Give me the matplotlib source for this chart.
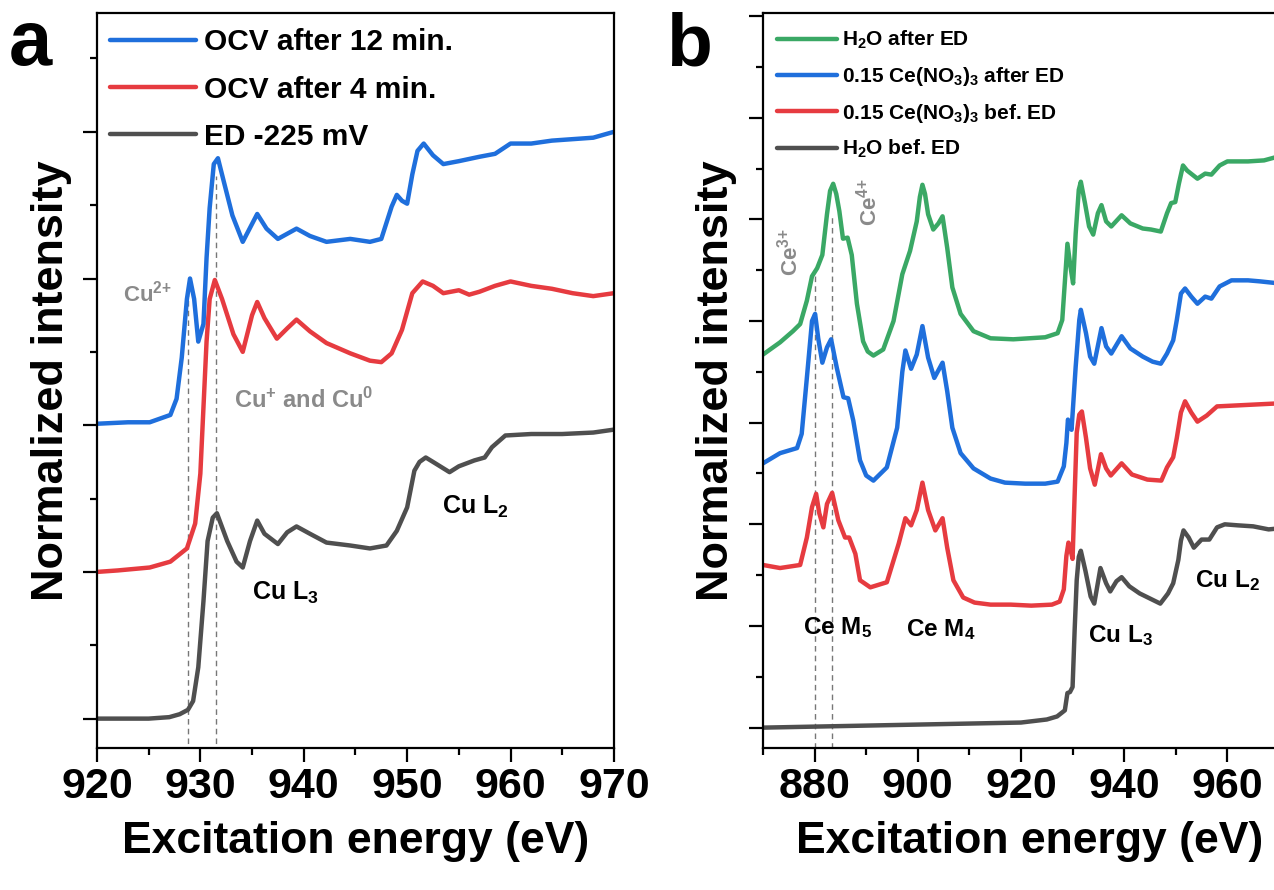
import numpy as np
import matplotlib.pyplot as plt
from matplotlib.ticker import MultipleLocator

plt.rcParams['font.family'] = ['Liberation Sans', 'DejaVu Sans']
plt.rcParams['font.weight'] = 'bold'
plt.rcParams['mathtext.fontset'] = 'custom'
plt.rcParams['mathtext.rm'] = 'Liberation Sans:bold'
plt.rcParams['mathtext.it'] = 'Liberation Sans:bold'
plt.rcParams['mathtext.bf'] = 'Liberation Sans:bold'

########### colours ###########
c_blue = '#1f6fdc'
c_red = '#e63b40'
c_gray = '#4f4f4f'
c_green = '#3aa865'
c_note = '#8a8a8a'

########### panel a data (stacked, offset = 1 major tick) ###########
ed_x = [920, 922, 925, 927, 928, 928.8, 929.3, 929.8, 930.3, 930.7, 931.2, 931.6, 932.6, 933.5,
        934.1, 934.8, 935.5, 936.2, 937.5, 938.4, 939.3, 940.6, 942.2, 944.5, 946.4, 948, 949,
        950, 950.7, 951.2, 951.8, 952.5, 954.1, 955, 956.5, 957.5, 958.2, 959.5, 962, 965, 968, 970]
ed_y = [0, 0, 0, 0.01, 0.03, 0.06, 0.12, 0.35, 0.80, 1.21, 1.37, 1.40, 1.21, 1.07,
        1.03, 1.21, 1.35, 1.26, 1.19, 1.27, 1.31, 1.26, 1.20, 1.18, 1.16, 1.18, 1.28,
        1.44, 1.69, 1.75, 1.78, 1.75, 1.68, 1.72, 1.76, 1.78, 1.85, 1.93, 1.94, 1.94, 1.95, 1.97]

ocv4_x = [920, 922, 925.1, 927.1, 928.7, 929.5, 930.0, 930.3, 930.6, 930.9, 931.4, 932.1, 933.2,
          934.1, 935.0, 935.5, 936.2, 937.4, 938.4, 939.3, 940.6, 942.2, 944.5, 946.4, 947.5,
          948.5, 949.5, 950.5, 951.5, 952.5, 953.5, 955, 956, 957, 958.5, 960, 962, 964, 966,
          968, 970]
ocv4_y = [1.00, 1.01, 1.03, 1.07, 1.16, 1.33, 1.67, 2.12, 2.57, 2.86, 2.99, 2.86, 2.62,
          2.50, 2.75, 2.84, 2.73, 2.59, 2.66, 2.72, 2.64, 2.56, 2.49, 2.44, 2.43,
          2.49, 2.65, 2.90, 2.98, 2.95, 2.90, 2.92, 2.89, 2.91, 2.95, 2.98, 2.95, 2.93, 2.90,
          2.88, 2.90]

ocv12_x = [920, 923, 925.1, 927.1, 927.7, 928.2, 928.7, 929.0, 929.4, 929.8, 930.3, 930.6, 930.9,
           931.3, 931.7, 932.2, 933.1, 934.1, 935.5, 936.4, 937.5, 939.3, 940.6, 942.2, 944.5,
           946.4, 947.5, 948.5, 949.0, 949.5, 950, 950.5, 951.0, 951.6, 952.5, 953.5, 955, 957,
           958.5, 960, 962, 964, 966, 968, 970]
ocv12_y = [2.01, 2.02, 2.02, 2.07, 2.18, 2.46, 2.86, 3.00, 2.86, 2.57, 2.69, 3.14, 3.48,
           3.78, 3.82, 3.68, 3.43, 3.25, 3.44, 3.34, 3.27, 3.34, 3.29, 3.25, 3.27,
           3.25, 3.27, 3.49, 3.57, 3.53, 3.51, 3.71, 3.87, 3.92, 3.84, 3.78, 3.80, 3.83,
           3.85, 3.92, 3.92, 3.94, 3.95, 3.96, 4.00]

########### panel b data ###########
h2o_bef_x = [870, 880, 900, 920, 925, 927, 928.5, 929, 929.5, 930, 930.4, 930.8, 931.2, 931.6,
             932.5, 933.5, 934.2, 935.4, 936.5, 937.3, 938.5, 939.5, 941, 943, 945, 947, 948.5,
             949.5, 950.5, 951, 951.5, 952.5, 953.5, 955, 956.5, 958, 959.5, 962, 965, 968, 970]
h2o_bef_y = [0, 0.01, 0.03, 0.05, 0.08, 0.11, 0.17, 0.34, 0.35, 0.40, 0.96, 1.45, 1.68, 1.74,
             1.54, 1.29, 1.22, 1.57, 1.42, 1.34, 1.44, 1.48, 1.39, 1.32, 1.27, 1.22, 1.32,
             1.42, 1.65, 1.84, 1.94, 1.87, 1.77, 1.85, 1.85, 1.97, 2.00, 1.99, 1.98, 1.95, 1.96]

ce_bef_x = [870, 873.3, 877.2, 878.5, 879.5, 880.3, 880.9, 881.7, 882.4, 883.4, 884.6, 885.9,
            886.7, 887.9, 888.8, 890.8, 894.0, 896.3, 897.6, 898.7, 899.8, 900.9, 902.0, 903.4,
            904.8, 905.7, 906.9, 908.8, 911, 914.1, 918, 922, 926,
            927.5, 928.3, 928.8, 929.2, 929.6, 930, 930.4, 930.8, 931.3, 931.8, 932.6, 933.4,
            934.3, 935.5, 936.5, 937.4, 939.5, 941.5, 944.5, 947.2, 948.3, 949.5, 950.2, 951,
            951.8, 953, 954.2, 956, 958, 962, 966, 970]
ce_bef_y = [1.60, 1.57, 1.60, 1.87, 2.17, 2.30, 2.11, 1.97, 2.20, 2.31, 2.04, 1.87,
            1.87, 1.71, 1.45, 1.38, 1.43, 1.81, 2.06, 1.99, 2.14, 2.41, 2.14, 1.94,
            2.06, 1.77, 1.45, 1.28, 1.23, 1.21, 1.21, 1.20, 1.21,
            1.24, 1.36, 1.69, 1.82, 1.75, 1.66, 2.29, 2.90, 3.08, 3.11, 2.85, 2.55,
            2.39, 2.69, 2.55, 2.48, 2.60, 2.49, 2.44, 2.43, 2.56, 2.66, 2.85, 3.10,
            3.21, 3.10, 3.01, 3.07, 3.16, 3.17, 3.18, 3.19]

ce_aft_x = [870, 873.3, 876.6, 877.5, 878.5, 879.5, 880.1, 880.7, 881.5, 882.4, 883.2, 884.3,
            885.6, 886.5, 887.5, 888.8, 890.0, 891.4, 894.0, 896.0, 897.0, 897.6, 898.7, 899.8,
            900.9, 902.0, 903.2, 904.8, 905.7, 906.7, 908.3, 910.8, 914.1, 916.9, 920.8, 924.7,
            927.1, 928.3, 928.8, 929.1, 929.8, 930.6, 931.3,
            931.6, 932.6, 933.4, 934.2, 935.6, 936.5, 937.5, 939.5, 941.2, 943.6, 945.5, 947.1,
            948.3, 949.5, 950.2, 951, 951.8, 953, 954.2, 955.7, 956.9, 958.5, 960.8, 964, 966.3,
            970]
ce_aft_y = [2.60, 2.70, 2.75, 2.89, 3.44, 4.00, 4.07, 3.83, 3.59, 3.74, 3.82, 3.54,
            3.25, 3.24, 3.02, 2.63, 2.48, 2.43, 2.56, 2.95, 3.50, 3.71, 3.53, 3.67,
            3.95, 3.64, 3.44, 3.59, 3.31, 2.95, 2.70, 2.55, 2.45, 2.41, 2.40, 2.40,
            2.42, 2.57, 2.80, 3.03, 2.93, 3.55, 4.01,
            4.11, 3.88, 3.65, 3.58, 3.93, 3.75, 3.68, 3.85, 3.73, 3.65, 3.60, 3.58,
            3.68, 3.81, 4.01, 4.27, 4.32, 4.24, 4.17, 4.24, 4.22, 4.34, 4.40, 4.40, 4.39,
            4.37]

h2o_aft_x = [870, 873.3, 875.8, 877.2, 878.5, 879.5, 880.5, 881.5, 882.4, 883.0, 883.6, 884.2,
             884.8, 885.5, 886.4, 887.2, 888.2, 889.4, 890.3, 891.4, 893.3, 895.3, 897.0, 898.5,
             899.8, 900.4, 900.9, 901.4, 902.0, 903.0, 904.0, 904.8, 905.7, 906.7, 908.3, 910.8,
             914.1, 918.5, 921.6, 924.7, 927.1, 928, 928.7, 929,
             929.6, 930.1, 930.6, 931.2, 931.6, 932.4, 933.2, 934, 934.9, 935.6, 936.5, 937.5,
             939.5, 941.2, 943.6, 945.2, 947.1, 948.3, 949.1, 949.9, 950.6, 951.4, 952.2, 954.2,
             955.7, 956.9, 958.5, 960, 964, 967.1, 970]
h2o_aft_y = [3.67, 3.79, 3.90, 3.97, 4.20, 4.44, 4.52, 4.65, 5.05, 5.28, 5.35, 5.25,
             5.08, 4.81, 4.82, 4.65, 4.17, 3.80, 3.70, 3.66, 3.72, 4.00, 4.46, 4.69,
             4.98, 5.22, 5.34, 5.25, 5.05, 4.90, 4.96, 5.03, 4.72, 4.33, 4.07, 3.90,
             3.83, 3.82, 3.83, 3.84, 3.88, 4.01, 4.53, 4.76,
             4.53, 4.37, 4.86, 5.29, 5.37, 5.16, 4.93, 4.85, 5.06, 5.14, 4.98, 4.93,
             5.04, 4.96, 4.91, 4.90, 4.88, 5.06, 5.16, 5.17, 5.35, 5.53, 5.48, 5.40,
             5.45, 5.44, 5.53, 5.57, 5.57, 5.58, 5.62]

########### figure ###########
fig = plt.figure(figsize=(12.74, 8.90), dpi=100)
axa = fig.add_axes([0.0761, 0.1596, 0.4058, 0.8258])
axb = fig.add_axes([0.5989, 0.1596, 0.4050, 0.8258])

lw = 3.2
kw = dict(lw=lw, solid_joinstyle='round', solid_capstyle='round')
dash = dict(ls=(0, (4, 3)), lw=1.0, color='#777777', zorder=1)

# panel a
axa.plot([928.8, 928.8], [-0.3, 2.9], **dash)
axa.plot([931.5, 931.5], [-0.3, 3.7], **dash)
la3, = axa.plot(ed_x, ed_y, color=c_gray, label='ED -225 mV', **kw)
la2, = axa.plot(ocv4_x, ocv4_y, color=c_red, label='OCV after 4 min.', **kw)
la1, = axa.plot(ocv12_x, ocv12_y, color=c_blue, label='OCV after 12 min.', **kw)

axa.set_xlim(920, 970)
axa.set_ylim(-0.2, 4.81)
axa.xaxis.set_major_locator(MultipleLocator(10))
axa.xaxis.set_minor_locator(MultipleLocator(5))
axa.yaxis.set_major_locator(MultipleLocator(1))
axa.yaxis.set_minor_locator(MultipleLocator(0.5))

axa.legend(handles=[la1, la2, la3], loc='upper left', bbox_to_anchor=(0.025, 0.979),
           frameon=False, fontsize=21.5, handlelength=2.9, handletextpad=0.25,
           labelspacing=0.64, borderpad=0, borderaxespad=0)

axa.text(922.5, 2.9, 'Cu$^{2{+}}$', color=c_note, fontsize=16, va='center', ha='left')
axa.text(933.3, 2.17, 'Cu$^{{+}}$ and Cu$^{0}$', color=c_note, fontsize=17, va='center', ha='left')
axa.text(935.0, 0.86, 'Cu L$_3$', color='black', fontsize=18, va='center', ha='left')
axa.text(953.4, 1.44, 'Cu L$_2$', color='black', fontsize=18, va='center', ha='left')

# panel b
axb.plot([880.1, 880.1], [-0.3, 4.49], **dash)
axb.plot([883.3, 883.3], [-0.3, 5.05], **dash)
lb4, = axb.plot(h2o_bef_x, h2o_bef_y, color=c_gray, label='H$_2$O bef. ED', **kw)
lb3, = axb.plot(ce_bef_x, ce_bef_y, color=c_red, label='0.15 Ce(NO$_3$)$_3$ bef. ED', **kw)
lb2, = axb.plot(ce_aft_x, ce_aft_y, color=c_blue, label='0.15 Ce(NO$_3$)$_3$ after ED', **kw)
lb1, = axb.plot(h2o_aft_x, h2o_aft_y, color=c_green, label='H$_2$O after ED', **kw)

axb.set_xlim(870, 970)
axb.set_ylim(-0.2, 7.03)
axb.xaxis.set_major_locator(MultipleLocator(20))
axb.xaxis.set_minor_locator(MultipleLocator(10))
axb.yaxis.set_major_locator(MultipleLocator(1))
axb.yaxis.set_minor_locator(MultipleLocator(0.5))

axb.legend(handles=[lb1, lb2, lb3, lb4], loc='upper left', bbox_to_anchor=(0.027, 0.978),
           frameon=False, fontsize=15, handlelength=2.9, handletextpad=0.2,
           labelspacing=0.65, borderpad=0, borderaxespad=0)

axb.text(875.2, 4.68, 'Ce$^{3{+}}$', color=c_note, fontsize=16, rotation=90, va='center', ha='center')
axb.text(890.4, 5.17, 'Ce$^{4{+}}$', color=c_note, fontsize=16, rotation=90, va='center', ha='center')
axb.text(877.7, 0.98, 'Ce M$_5$', color='black', fontsize=17.5, va='center', ha='left')
axb.text(897.7, 0.96, 'Ce M$_4$', color='black', fontsize=17.5, va='center', ha='left')
axb.text(933.0, 0.91, 'Cu L$_3$', color='black', fontsize=17.5, va='center', ha='left')
axb.text(953.8, 1.45, 'Cu L$_2$', color='black', fontsize=17.5, va='center', ha='left')

for ax in (axa, axb):
    for sp in ax.spines.values():
        sp.set_linewidth(1.6)
    ax.tick_params(which='major', direction='out', length=10, width=1.6, labelsize=31, pad=4)
    ax.tick_params(which='minor', direction='out', length=5, width=1.6)
    ax.tick_params(axis='y', labelleft=False)
    ax.set_xlabel('Excitation energy (eV)', fontsize=32, fontweight='bold')
    ax.set_ylabel('Normalized intensity', fontsize=32.5, fontweight='bold')

axa.xaxis.set_label_coords(0.5, -0.1)
axb.xaxis.set_label_coords(0.517, -0.1)
axa.yaxis.set_label_coords(-0.048, 0.5)
axb.yaxis.set_label_coords(-0.05, 0.5)

fig.text(9 / 1274, 1 - 65 / 890, 'a', fontsize=56, fontweight='bold', va='baseline')
fig.text(666 / 1274, 1 - 65 / 890, 'b', fontsize=54, fontweight='bold', va='baseline')

fig.savefig('out.png', dpi=100)
